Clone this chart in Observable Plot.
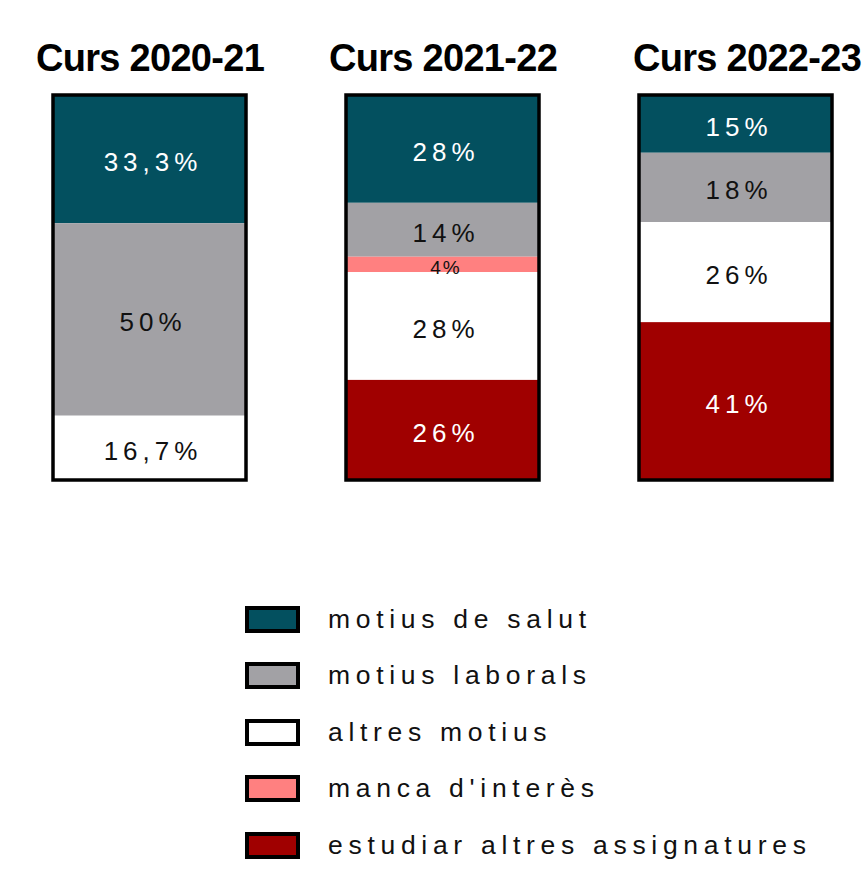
<!DOCTYPE html>
<html>
<head>
<meta charset="utf-8">
<script src="https://cdn.jsdelivr.net/npm/d3@7"></script>
<script src="https://cdn.jsdelivr.net/npm/@observablehq/plot@0.6"></script>
<style>
  body { margin: 0; background: #fff; font-family: 'Liberation Sans', Arial, sans-serif; }
  #legend { margin-left: 245px; margin-top: 91px; }
  .row { display: flex; align-items: center; height: 56.5px; }
  .sw { width: 55px; height: 27px; border: 4px solid #000; box-sizing: border-box; }
  .lab { margin-left: 28px; font-size: 26.5px; letter-spacing: 5.7px; color: #111; }
</style>
</head>
<body>
<div id="chart"></div>
<div id="legend"></div>
<script>
const courses = ["Curs 2020-21", "Curs 2021-22", "Curs 2022-23"];
const legendOrder = ["motius de salut", "motius laborals", "altres motius", "manca d'interès", "estudiar altres assignatures"];
const stackOrder = ["motius de salut", "motius laborals", "manca d'interès", "altres motius", "estudiar altres assignatures"];
const colors = ["#03505f", "#a2a1a5", "#ffffff", "#ff8080", "#a00000"];
const salut = [33.3, 28, 15];
const laborals = [50, 14, 18];
const altres = [16.7, 28, 26];
const manca = [0, 4, 0];
const estudiar = [0, 26, 41];

const series = {
  "motius de salut": salut,
  "motius laborals": laborals,
  "altres motius": altres,
  "manca d'interès": manca,
  "estudiar altres assignatures": estudiar
};
const colorOf = Object.fromEntries(legendOrder.map((r, i) => [r, colors[i]]));
const whiteText = new Set(["motius de salut", "estudiar altres assignatures"]);

const rows = [];
courses.forEach((c, i) => {
  stackOrder.forEach(r => {
    const v = series[r][i];
    if (v > 0) rows.push({course: c, reason: r, value: v});
  });
});
const fmt = v => String(v).replace(".", ",") + "%";

const chart = Plot.plot({
  width: 865,
  height: 500,
  marginTop: 95,
  marginBottom: 20,
  marginLeft: 52,
  marginRight: 31,
  style: {fontFamily: "'Liberation Sans', Arial, sans-serif", background: "white"},
  x: {domain: courses, paddingInner: 0.34, paddingOuter: 0, axis: null},
  y: {domain: [0, 100], reverse: true, axis: null},
  color: {type: "identity"},
  marks: [
    Plot.barY(rows, Plot.stackY({
      x: "course", y: "value", z: "reason", order: stackOrder,
      fill: d => colorOf[d.reason], inset: 0
    })),
    Plot.barY(courses, {
      x: d => d, y1: () => 0, y2: () => 100,
      fill: "none", stroke: "#000", strokeWidth: 3.5, inset: 0
    }),
    Plot.text(rows, Plot.stackY({
      x: "course", y: "value", z: "reason", order: stackOrder,
      text: d => fmt(d.value),
      fill: d => whiteText.has(d.reason) ? "#ffffff" : "#111111",
      fontSize: d => d.value < 5 ? 19 : 26,
      dx: 3, dy: 3
    })),
    Plot.text(courses, {
      x: d => d, y: () => 0, text: d => d,
      filter: (d, i) => i < 2,
      fontSize: 38, fontWeight: "bold", fill: "#000",
      dy: -36.7
    }),
    Plot.text(courses, {
      x: d => d, y: () => 0, text: d => d,
      filter: (d, i) => i === 2,
      fontSize: 38, fontWeight: "bold", fill: "#000",
      dy: -36.7, dx: 11
    })
  ]
});

d3.select(chart).selectAll("text").each(function() {
  const t = this.textContent;
  if (courses.includes(t)) d3.select(this).style("letter-spacing", "-0.7px");
  else if (t === "4%") d3.select(this).style("letter-spacing", "2px");
  else d3.select(this).style("letter-spacing", "5px");
});
document.getElementById("chart").appendChild(chart);

const legend = d3.select("#legend");
legendOrder.forEach((r, i) => {
  const row = legend.append("div").attr("class", "row");
  row.append("div").attr("class", "sw").style("background", colors[i]);
  row.append("div").attr("class", "lab").text(r);
});
</script>
</body>
</html>
